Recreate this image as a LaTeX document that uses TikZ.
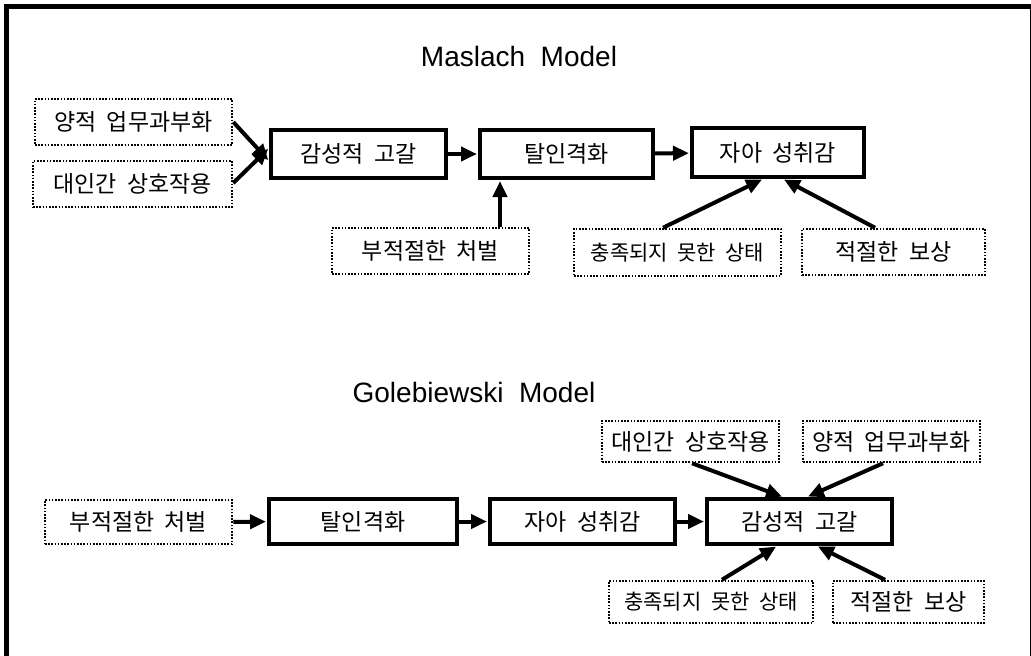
\documentclass[tikz,border=0pt]{standalone}
\usepackage{fontspec}
\setmainfont{Liberation Sans}
\newfontfamily\kr{Noto Sans CJK KR}
\usetikzlibrary{arrows.meta}

\begin{document}
\begin{tikzpicture}[x=1pt,y=1pt,yscale=-1,xscale=1,
  stage/.style={draw,line width=4pt,minimum height=46pt,inner sep=0pt,font=\kr\fontsize{23}{27}\selectfont},
  cause/.style={draw,line width=2.5pt,dash pattern=on 1.6pt off 1.6pt,minimum height=46pt,inner sep=0pt,font=\kr\fontsize{23}{27}\selectfont},
  narrow/.style={font=\kr\fontsize{21}{25}\selectfont},
  flow/.style={line width=4pt,-{Triangle[length=16pt,width=14pt]},shorten >=1pt}]
\useasboundingbox (0,0) rectangle (1031,656);

%Shape: Rectangle (frame)
\draw [line width=5pt] (6.5,6) -- (1032,6) -- (1032,670) -- (6.5,670) -- cycle ;

% Text Node
\node (tm) at (519,56) {\fontsize{28}{32}\selectfont Maslach\ \ Model};
% Text Node
\node (tg) at (474,392) {\fontsize{28}{32}\selectfont Golebiewski\ \ Model};

%Shape: Rectangle -- Maslach
\node [cause,minimum width=197pt] (qo1) at (133.5,122) {양적\ \ 업무과부화};
\node [cause,minimum width=199pt] (ip1) at (132.5,184) {대인간\ \ 상호작용};
\node [stage,minimum width=175pt,minimum height=48pt] (es1) at (358.5,154) {감성적\ \ 고갈};
\node [stage,minimum width=173pt,minimum height=48pt] (dp1) at (566.5,154) {탈인격화};
\node [stage,minimum width=172pt,minimum height=49pt] (pa1) at (778,152.5) {자아\ \ 성취감};
\node [cause,minimum width=197pt] (pu1) at (430.5,251) {부적절한\ \ 처벌};
\node [cause,narrow,minimum width=207pt,minimum height=47pt] (un1) at (677.5,252.5) {충족되지\ \ 못한\ \ 상태};
\node [cause,minimum width=183pt] (rw1) at (893.5,252) {적절한\ \ 보상};

%Shape: Rectangle -- Golebiewski
\node [cause,minimum width=187pt,minimum height=44pt] (pu2) at (138.5,522) {부적절한\ \ 처벌};
\node [stage,minimum width=188pt,minimum height=45pt] (dp2) at (363,521.5) {탈인격화};
\node [stage,minimum width=185pt,minimum height=45pt] (pa2) at (582.5,521.5) {자아\ \ 성취감};
\node [stage,minimum width=185pt,minimum height=45pt] (es2) at (799.5,521.5) {감성적\ \ 고갈};
\node [cause,minimum width=177pt,minimum height=41pt] (ip2) at (690.5,441.5) {대인간\ \ 상호작용};
\node [cause,minimum width=177pt,minimum height=41pt] (qo2) at (891.5,441.5) {양적\ \ 업무과부화};
\node [cause,narrow,minimum width=204pt,minimum height=42pt] (un2) at (711,602) {충족되지\ \ 못한\ \ 상태};
\node [cause,minimum width=151pt,minimum height=42pt] (rw2) at (908.5,602) {적절한\ \ 보상};

%Straight Lines -- Maslach
\draw [flow] (qo1.east) -- ([yshift=7pt]es1.west) ;
\draw [flow] ([yshift=-1pt]ip1.east) -- ([yshift=-6pt]es1.west) ;
\draw [flow] (es1) -- (dp1) ;
\draw [flow] (dp1) -- (pa1) ;
\draw [flow] ([xshift=69.5pt]pu1.north) -- ([xshift=69.5pt]pu1.north |- dp1.south) ;
\draw [flow] ([xshift=-14.5pt]un1.north) -- ([xshift=-15pt]pa1.south) ;
\draw [flow] ([xshift=-18.5pt]rw1.north) -- ([xshift=5pt]pa1.south) ;

%Straight Lines -- Golebiewski
\draw [flow] (pu2) -- (dp2) ;
\draw [flow] (dp2) -- (pa2) ;
\draw [flow] (pa2) -- (es2) ;
\draw [flow] ([xshift=1.5pt]ip2.south) -- ([xshift=-16.5pt]es2.north) ;
\draw [flow] ([xshift=-8.5pt]qo2.south) -- ([xshift=7.5pt]es2.north) ;
\draw [flow] ([xshift=11pt]un2.north) -- ([xshift=-22.5pt]es2.south) ;
\draw [flow] ([xshift=-23.5pt]rw2.north) -- ([xshift=17.5pt]es2.south) ;

\end{tikzpicture}
\end{document}
